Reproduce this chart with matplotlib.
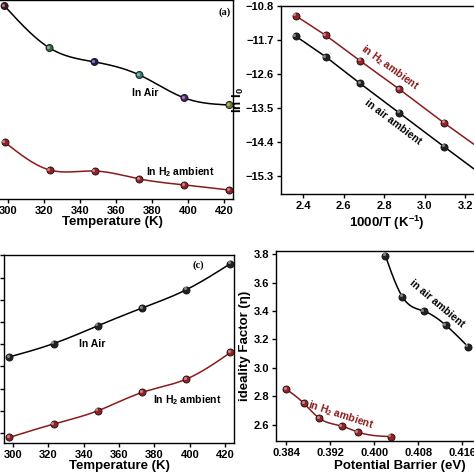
import matplotlib
matplotlib.use("Agg")
import matplotlib.pyplot as plt
import matplotlib.transforms as mtrans
import numpy as np

# Data
temps = [298, 323, 348, 373, 398, 423]

# (a) ideality factor vs temperature
n_air_T = [3.78, 3.50, 3.407, 3.32, 3.167, 3.12]
n_h2_T = [2.873, 2.687, 2.68, 2.627, 2.587, 2.553]
air_colors = ["#4a1228", "#2f6b3c", "#1c1c5c", "#2b7a78", "#4b1d6b", "#6d7a2c"]

# (b) ln I0 vs 1000/T (same temperature order)
lnI0_h2 = [-14.90, -13.90, -13.00, -12.25, -11.58, -11.06]
lnI0_air = [-15.57, -14.53, -13.63, -12.85, -12.15, -11.60]

# (c) barrier height vs temperature
phi_air = [0.3977, 0.4001, 0.4033, 0.4065, 0.4098, 0.4145]
phi_h2 = [0.3832, 0.3856, 0.3880, 0.3913, 0.3937, 0.3985]

# (d) ideality factor vs barrier height
pb_air = [0.4020, 0.4051, 0.4090, 0.4130, 0.4170]
n_air = [3.79, 3.50, 3.40, 3.30, 3.15]
pb_h2 = [0.3840, 0.3872, 0.3900, 0.3941, 0.3970, 0.4030]
n_h2 = [2.85, 2.75, 2.645, 2.59, 2.548, 2.516]

RED = "#8b1a1a"
MRED = "#9a1f22"

plt.rcParams.update({
    "font.family": "Liberation Sans",
    "font.weight": "bold",
    "axes.labelweight": "bold",
    "mathtext.fontset": "custom",
    "mathtext.rm": "Liberation Sans:bold",
    "mathtext.it": "Liberation Sans:bold",
    "mathtext.bf": "Liberation Sans:bold",
    "xtick.labelsize": 8,
    "ytick.labelsize": 8,
    "axes.linewidth": 1.0,
    "xtick.major.width": 1.0,
    "ytick.major.width": 1.0,
    "xtick.major.size": 3,
    "ytick.major.size": 3,
})


def spline(x, y, n=300):
    # natural cubic spline through the points (Origin-style smooth line)
    x = np.asarray(x, float)
    y = np.asarray(y, float)
    k = len(x)
    h = np.diff(x)
    A = np.zeros((k, k))
    r = np.zeros(k)
    A[0, 0] = A[-1, -1] = 1
    for i in range(1, k - 1):
        A[i, i - 1] = h[i - 1]
        A[i, i] = 2 * (h[i - 1] + h[i])
        A[i, i + 1] = h[i]
        r[i] = 3 * ((y[i + 1] - y[i]) / h[i] - (y[i] - y[i - 1]) / h[i - 1])
    c = np.linalg.solve(A, r)
    b = (y[1:] - y[:-1]) / h - h * (2 * c[:-1] + c[1:]) / 3
    d = (c[1:] - c[:-1]) / (3 * h)
    xs = np.linspace(x[0], x[-1], n)
    idx = np.clip(np.searchsorted(x, xs) - 1, 0, k - 2)
    dx = xs - x[idx]
    return xs, y[idx] + b[idx] * dx + c[idx] * dx ** 2 + d[idx] * dx ** 3


def balls(ax, x, y, colors, clip=False):
    # shaded "sphere" markers: body plus a small highlight
    ax.scatter(x, y, s=26, c=colors, edgecolors="#111111", linewidths=0.6,
               zorder=3, clip_on=clip)
    hl = mtrans.offset_copy(ax.transData, fig=ax.figure, x=-1.0, y=1.0, units="points")
    ax.scatter(x, y, s=5, c="white", alpha=0.45, linewidths=0, zorder=4,
               transform=hl, clip_on=clip)


W = 474.0
fig = plt.figure(figsize=(4.74, 4.74), dpi=100)


def rect(x0, x1, y0, y1):
    return [x0 / W, 1 - y1 / W, (x1 - x0) / W, (y1 - y0) / W]


ax_a = fig.add_axes(rect(-8, 233, 0, 199))
ax_b = fig.add_axes(rect(281, 493, 6, 194.3))
ax_c = fig.add_axes(rect(4, 234, 255.3, 443))
ax_d = fig.add_axes(rect(276.3, 524, 251, 441.3))

LABEL_FS = 9.5
NOTE_FS = 7.5

# (a)
xs, ys = spline(temps, n_air_T)
ax_a.plot(xs, ys, color="black", lw=1.1)
xs, ys = spline(temps, n_h2_T)
ax_a.plot(xs, ys, color=RED, lw=1.1)
balls(ax_a, temps, n_air_T, air_colors)
balls(ax_a, temps, n_h2_T, MRED)
ax_a.set_xlim(291, 425)
ax_a.set_ylim(2.4933, 3.82)
ax_a.set_xticks(range(300, 421, 20))
ax_a.set_xlabel("Temperature (K)", fontsize=LABEL_FS, labelpad=0)
ax_a.text(376, 3.20, "In Air", fontsize=NOTE_FS, ha="center", va="center")
ax_a.text(395.5, 2.673, "In H$_2$ ambient", fontsize=NOTE_FS, ha="center", va="center")
ax_a.text(420.6, 3.74, "(a)", fontsize=NOTE_FS, ha="center", va="center",
          family="Liberation Serif")
ax_a.tick_params(labelleft=False)

# (b)
inv_T = 1000.0 / np.array(temps)
ax_b.plot(inv_T, lnI0_h2, color=RED, lw=1.1)
ax_b.plot(inv_T, lnI0_air, color="black", lw=1.1)
balls(ax_b, inv_T, lnI0_h2, MRED, clip=True)
balls(ax_b, inv_T, lnI0_air, "#222222", clip=True)
ax_b.set_xlim(2.2913, 3.338)
ax_b.set_ylim(-15.795, -10.8)
ax_b.set_xticks([2.4, 2.6, 2.8, 3.0, 3.2])
ax_b.set_yticks([-10.8, -11.7, -12.6, -13.5, -14.4, -15.3])
ax_b.xaxis.set_major_formatter("{x:.1f}")
ax_b.yaxis.set_major_formatter("{x:.1f}")
ax_b.set_xlabel("1000/T (K$^{-1}$)", fontsize=LABEL_FS, labelpad=2)
ax_b.set_ylabel("ln I$_0$", fontsize=LABEL_FS, labelpad=0)
ax_b.text(2.83, -12.445, "in H$_2$ ambient", fontsize=NOTE_FS, color=RED,
          ha="center", va="center", rotation=-36, rotation_mode="anchor")
ax_b.text(2.844, -13.877, "in air ambient", fontsize=NOTE_FS,
          ha="center", va="center", rotation=-37, rotation_mode="anchor")

# (c)
xs, ys = spline(temps, phi_air)
ax_c.plot(xs, ys, color="black", lw=1.1)
xs, ys = spline(temps, phi_h2)
ax_c.plot(xs, ys, color=RED, lw=1.1)
balls(ax_c, temps, phi_air, "#222222")
balls(ax_c, temps, phi_h2, MRED)
ax_c.set_xlim(295, 425)
ax_c.set_ylim(0.3822, 0.416)
ax_c.set_xticks(range(300, 421, 20))
ax_c.set_yticks(np.arange(0.384, 0.4161, 0.004))
ax_c.set_xlabel("Temperature (K)", fontsize=LABEL_FS, labelpad=0)
ax_c.text(344.7, 0.400, "In Air", fontsize=NOTE_FS, ha="center", va="center")
ax_c.text(398.4, 0.390, "In H$_2$ ambient", fontsize=NOTE_FS, ha="center", va="center")
ax_c.text(404.6, 0.4143, "(c)", fontsize=NOTE_FS, ha="center", va="center",
          family="Liberation Serif")
ax_c.tick_params(labelleft=False)

# (d)
xs, ys = spline(pb_air, n_air)
ax_d.plot(xs, ys, color="black", lw=1.1)
xs, ys = spline(pb_h2, n_h2)
ax_d.plot(xs, ys, color=RED, lw=1.1)
balls(ax_d, pb_air, n_air, "#222222")
balls(ax_d, pb_h2, n_h2, MRED)
ax_d.set_xlim(0.38218, 0.4272)
ax_d.set_ylim(2.483, 3.823)
ax_d.set_xticks([0.384, 0.392, 0.400, 0.408, 0.416])
ax_d.set_yticks([2.6, 2.8, 3.0, 3.2, 3.4, 3.6, 3.8])
ax_d.xaxis.set_major_formatter("{x:.3f}")
ax_d.yaxis.set_major_formatter("{x:.1f}")
ax_d.set_xlabel("Potential Barrier (eV)", fontsize=LABEL_FS, labelpad=1)
ax_d.set_ylabel("ideality Factor (η)", fontsize=LABEL_FS, labelpad=2)
ax_d.text(0.4114, 3.45, "in air ambient", fontsize=NOTE_FS,
          ha="center", va="center", rotation=-40, rotation_mode="anchor")
ax_d.text(0.3939, 2.668, "in H$_2$ ambient", fontsize=NOTE_FS, color=RED,
          ha="center", va="center", rotation=-18, rotation_mode="anchor")

for ax in (ax_a, ax_b, ax_c, ax_d):
    ax.tick_params(direction="out", top=False, right=False, pad=2)
    for lab in ax.get_xticklabels() + ax.get_yticklabels():
        lab.set_fontweight("bold")

fig.savefig("out.png", dpi=100)
